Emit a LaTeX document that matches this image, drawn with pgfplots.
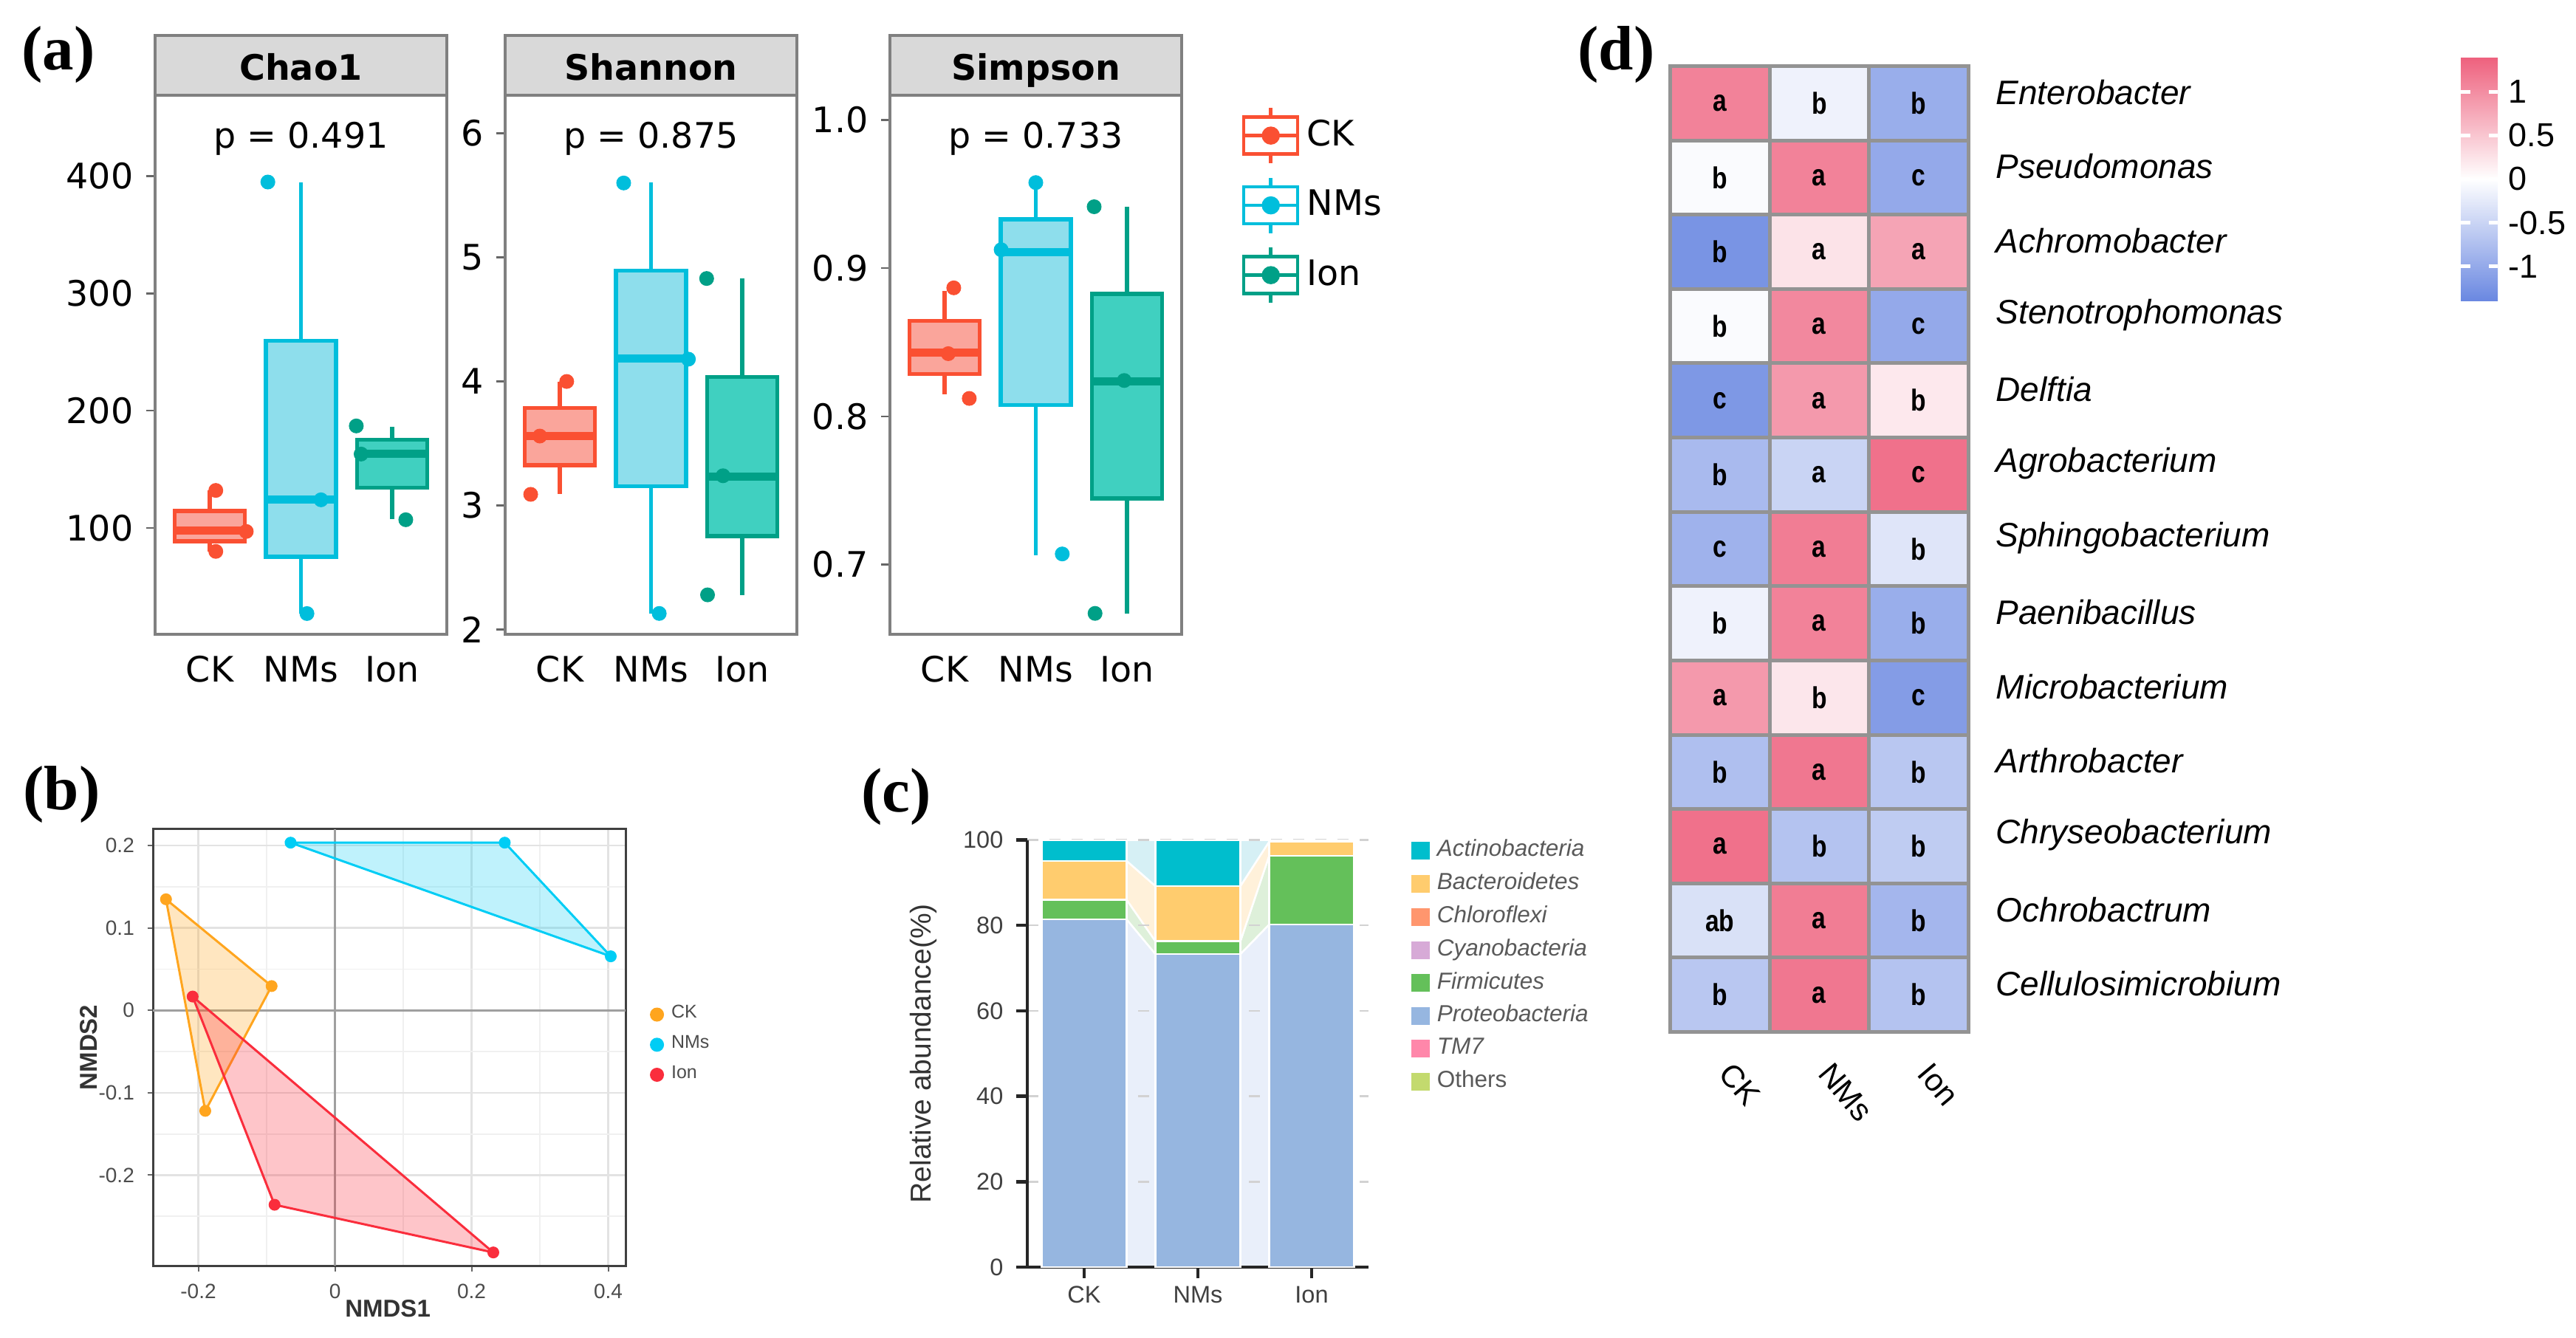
\documentclass[border=0pt]{standalone}
\usepackage{fontspec}
\setmainfont{Liberation Sans}
\newfontfamily\dejavu{DejaVu Sans}
\newfontfamily\tnr{Liberation Serif}
\newfontfamily\narrowf[FakeStretch=0.82]{Liberation Sans}
\usepackage{pgfplots}
\pgfplotsset{compat=1.18}
\usepgfplotslibrary{statistics}

\definecolor{ckl}{RGB}{250,80,50}
\definecolor{ckf}{RGB}{250,165,155}
\definecolor{nml}{RGB}{0,190,220}
\definecolor{nmf}{RGB}{142,222,236}
\definecolor{ionl}{RGB}{0,160,135}
\definecolor{ionf}{RGB}{64,208,192}
\definecolor{bck}{RGB}{255,165,30}
\definecolor{bnm}{RGB}{0,205,245}
\definecolor{bion}{RGB}{250,45,60}
\definecolor{cact}{RGB}{0,190,205}
\definecolor{cbac}{RGB}{255,204,110}
\definecolor{cchl}{RGB}{255,150,110}
\definecolor{ccya}{RGB}{215,170,215}
\definecolor{cfir}{RGB}{100,192,90}
\definecolor{cpro}{RGB}{150,182,224}
\definecolor{ctm}{RGB}{255,135,170}
\definecolor{coth}{RGB}{195,218,110}
\definecolor{lpro}{RGB}{233,239,250}
\definecolor{lfir}{RGB}{222,240,218}
\definecolor{lbac}{RGB}{255,241,218}
\definecolor{lact}{RGB}{214,240,245}

\pgfplotsset{
  apanel/.style={
    scale only axis, width=79pt, height=146pt, anchor=south west, clip=false,
    xmin=0.4, xmax=3.6, xtick={1,2,3}, xticklabels={CK,NMs,Ion},
    axis line style={gray, line width=0.7pt},
    tick align=outside, major tick length=2.4pt, xtick pos=bottom, ytick pos=left,
    ytick style={black!60, line width=0.5pt}, xtick style={draw=none},
    ticklabel style={font=\dejavu\fontsize{9.5}{11}\selectfont, text=black},
    boxplot/draw direction=y,
  },
  boxleg/.style={legend image code/.code={%
    \draw (7.3pt,-7.5pt) -- (7.3pt,7.5pt);
    \draw[fill=white] (0pt,-5pt) rectangle (14.6pt,5pt);
    \draw (0pt,0pt) -- (14.6pt,0pt);
    \fill (7.3pt,0pt) circle (2pt);}},
  dotleg/.style={legend image code/.code={\fill (1.7pt,0pt) circle (1.7pt);}},
  sqleg/.style={legend image code/.code={\fill (0pt,-2.2pt) rectangle (4.6pt,2.2pt);}},
}

\pgfplotstableread{
x y z
0 0 1.1
1 0 -0.15
2 0 -0.95
0 1 -0.05
1 1 1.1
2 1 -1.0
0 2 -1.25
1 2 0.25
2 2 0.8
0 3 -0.05
1 3 1.05
2 3 -1.0
0 4 -1.2
1 4 0.9
2 4 0.2
0 5 -0.8
1 5 -0.5
2 5 1.25
0 6 -0.9
1 6 1.15
2 6 -0.3
0 7 -0.15
1 7 1.1
2 7 -0.95
0 8 0.9
1 8 0.22
2 8 -1.15
0 9 -0.75
1 9 1.2
2 9 -0.65
0 10 1.25
1 10 -0.7
2 10 -0.6
0 11 -0.35
1 11 1.15
2 11 -0.85
0 12 -0.65
1 12 1.2
2 12 -0.7
}\heatdata

\pgfplotstableread{
x y lab
0 0 a
1 0 b
2 0 b
0 1 b
1 1 a
2 1 c
0 2 b
1 2 a
2 2 a
0 3 b
1 3 a
2 3 c
0 4 c
1 4 a
2 4 b
0 5 b
1 5 a
2 5 c
0 6 c
1 6 a
2 6 b
0 7 b
1 7 a
2 7 b
0 8 a
1 8 b
2 8 c
0 9 b
1 9 a
2 9 b
0 10 a
1 10 b
2 10 b
0 11 ab
1 11 a
2 11 b
0 12 b
1 12 a
2 12 b
}\heatlab

\begin{document}
\begin{tikzpicture}
\path[use as bounding box] (0pt,0pt) rectangle (697.6pt,362.2pt);

% panel labels
\node[font=\tnr\bfseries\fontsize{17}{17}\selectfont] at (15.8pt,347.4pt) {(a)};
\node[font=\tnr\bfseries\fontsize{17}{17}\selectfont] at (16.7pt,147pt) {(b)};
\node[font=\tnr\bfseries\fontsize{17}{17}\selectfont] at (242.7pt,146.4pt) {(c)};
\node[font=\tnr\bfseries\fontsize{17}{17}\selectfont] at (437.7pt,347.4pt) {(d)};

%================ (a) Chao1
\begin{axis}[apanel, at={(42pt,190.4pt)}, ymin=9.3, ymax=469,
  ytick={100,200,300,400}, yticklabels={100,200,300,400}]
\addplot[forget plot, draw=ckl, fill=ckf, line width=1.1pt, boxplot/every median/.style={line width=2.2pt},
  boxplot prepared={draw direction=y, draw position=1, lower whisker=80, lower quartile=88.5, median=98, upper quartile=114.5, upper whisker=132, box extend=0.77, whisker extend=0}] coordinates {};
\addplot[forget plot, draw=nml, fill=nmf, line width=1.1pt, boxplot/every median/.style={line width=2.2pt},
  boxplot prepared={draw direction=y, draw position=2, lower whisker=27, lower quartile=75.3, median=124, upper quartile=259.7, upper whisker=395, box extend=0.77, whisker extend=0}] coordinates {};
\addplot[forget plot, draw=ionl, fill=ionf, line width=1.1pt, boxplot/every median/.style={line width=2.2pt},
  boxplot prepared={draw direction=y, draw position=3, lower whisker=107.6, lower quartile=134.4, median=163, upper quartile=175.3, upper whisker=186, box extend=0.77, whisker extend=0}] coordinates {};
\addplot[forget plot, only marks, mark=*, mark size=1.8pt, ckl] coordinates {(1.066,132) (1.066,80) (1.40,97)};
\addplot[forget plot, only marks, mark=*, mark size=1.8pt, nml] coordinates {(1.637,395) (2.22,124) (2.066,27)};
\addplot[forget plot, only marks, mark=*, mark size=1.8pt, ionl] coordinates {(2.607,187) (2.66,163) (3.15,107)};
\draw[gray, line width=0.7pt, fill=gray!30] (rel axis cs:0,1) rectangle (rel axis cs:1,1.111);
\node[anchor=base, font=\dejavu\bfseries\fontsize{9.5}{11}\selectfont] at (rel axis cs:0.5,1.0274) {Chao1};
\node[anchor=base, font=\dejavu\fontsize{9.5}{11}\selectfont] at (rel axis cs:0.5,0.9027) {p = 0.491};
\end{axis}

%================ (a) Shannon
\begin{axis}[apanel, at={(136.8pt,190.4pt)}, ymin=1.962, ymax=6.307,
  ytick={2,3,4,5,6}, yticklabels={2,3,4,5,6}]
\addplot[forget plot, draw=ckl, fill=ckf, line width=1.1pt, boxplot/every median/.style={line width=2.2pt},
  boxplot prepared={draw direction=y, draw position=1, lower whisker=3.09, lower quartile=3.324, median=3.559, upper quartile=3.786, upper whisker=4.0, box extend=0.77, whisker extend=0}] coordinates {};
\addplot[forget plot, draw=nml, fill=nmf, line width=1.1pt, boxplot/every median/.style={line width=2.2pt},
  boxplot prepared={draw direction=y, draw position=2, lower whisker=2.127, lower quartile=3.155, median=4.183, upper quartile=4.893, upper whisker=5.603, box extend=0.77, whisker extend=0}] coordinates {};
\addplot[forget plot, draw=ionl, fill=ionf, line width=1.1pt, boxplot/every median/.style={line width=2.2pt},
  boxplot prepared={draw direction=y, draw position=3, lower whisker=2.278, lower quartile=2.754, median=3.234, upper quartile=4.035, upper whisker=4.832, box extend=0.77, whisker extend=0}] coordinates {};
\addplot[forget plot, only marks, mark=*, mark size=1.8pt, ckl] coordinates {(1.075,4.0) (0.78,3.56) (0.68,3.09)};
\addplot[forget plot, only marks, mark=*, mark size=1.8pt, nml] coordinates {(1.70,5.60) (2.41,4.18) (2.09,2.13)};
\addplot[forget plot, only marks, mark=*, mark size=1.8pt, ionl] coordinates {(2.61,4.83) (2.79,3.24) (2.62,2.28)};
\draw[gray, line width=0.7pt, fill=gray!30] (rel axis cs:0,1) rectangle (rel axis cs:1,1.111);
\node[anchor=base, font=\dejavu\bfseries\fontsize{9.5}{11}\selectfont] at (rel axis cs:0.5,1.0274) {Shannon};
\node[anchor=base, font=\dejavu\fontsize{9.5}{11}\selectfont] at (rel axis cs:0.5,0.9027) {p = 0.875};
\end{axis}

%================ (a) Simpson
\begin{axis}[apanel, at={(241pt,190.4pt)}, ymin=0.653, ymax=1.0166,
  ytick={0.7,0.8,0.9,1.0}, yticklabels={0.7,0.8,0.9,1.0},
  legend style={at={(axis description cs:1.205,0.981)}, anchor=north west, draw=none, fill=none,
    font=\dejavu\fontsize{9.5}{11}\selectfont, row sep=3pt, inner sep=0pt,
    /tikz/every even column/.append style={column sep=2pt}},
  legend cell align=left]
\addplot[forget plot, draw=ckl, fill=ckf, line width=1.1pt, boxplot/every median/.style={line width=2.2pt},
  boxplot prepared={draw direction=y, draw position=1, lower whisker=0.8151, lower quartile=0.8287, median=0.8429, upper quartile=0.8644, upper whisker=0.8846, box extend=0.77, whisker extend=0}] coordinates {};
\addplot[forget plot, draw=nml, fill=nmf, line width=1.1pt, boxplot/every median/.style={line width=2.2pt},
  boxplot prepared={draw direction=y, draw position=2, lower whisker=0.7063, lower quartile=0.8076, median=0.9109, upper quartile=0.9329, upper whisker=0.9577, box extend=0.77, whisker extend=0}] coordinates {};
\addplot[forget plot, draw=ionl, fill=ionf, line width=1.1pt, boxplot/every median/.style={line width=2.2pt},
  boxplot prepared={draw direction=y, draw position=3, lower whisker=0.6671, lower quartile=0.7447, median=0.8236, upper quartile=0.8825, upper whisker=0.9414, box extend=0.77, whisker extend=0}] coordinates {};
\addplot[forget plot, only marks, mark=*, mark size=1.8pt, ckl] coordinates {(1.10,0.8867) (1.04,0.8423) (1.27,0.8121)};
\addplot[forget plot, only marks, mark=*, mark size=1.8pt, nml] coordinates {(2.0,0.9577) (1.62,0.9124) (2.29,0.7072)};
\addplot[forget plot, only marks, mark=*, mark size=1.8pt, ionl] coordinates {(2.64,0.9414) (2.97,0.8242) (2.65,0.6671)};
\draw[gray, line width=0.7pt, fill=gray!30] (rel axis cs:0,1) rectangle (rel axis cs:1,1.111);
\node[anchor=base, font=\dejavu\bfseries\fontsize{9.5}{11}\selectfont] at (rel axis cs:0.5,1.0274) {Simpson};
\node[anchor=base, font=\dejavu\fontsize{9.5}{11}\selectfont] at (rel axis cs:0.5,0.9027) {p = 0.733};
\addlegendimage{ckl, line width=0.9pt, boxleg}
\addlegendentry{CK}
\addlegendimage{nml, line width=0.9pt, boxleg}
\addlegendentry{NMs}
\addlegendimage{ionl, line width=0.9pt, boxleg}
\addlegendentry{Ion}
\end{axis}

%================ (b) NMDS
\begin{axis}[scale only axis, width=128pt, height=118.2pt, at={(41.4pt,19.4pt)}, anchor=south west,
  xmin=-0.2665, xmax=0.4254, ymin=-0.3098, ymax=0.2197,
  xtick={-0.2,0,0.2,0.4}, xticklabels={-0.2,0,0.2,0.4},
  ytick={-0.2,-0.1,0,0.1,0.2}, yticklabels={-0.2,-0.1,0,0.1,0.2},
  minor xtick={-0.1,0.1,0.3}, minor ytick={-0.25,-0.15,-0.05,0.05,0.15},
  grid=both, major grid style={gray!22, line width=0.5pt}, minor grid style={gray!12, line width=0.35pt},
  axis line style={black!75, line width=0.6pt},
  tick style={black!60, line width=0.4pt}, major tick length=1.5pt, minor tick length=0pt,
  tick align=outside, xtick pos=bottom, ytick pos=left,
  ticklabel style={font=\fontsize{5.6}{6}\selectfont, text=black!70},
  xlabel={NMDS1}, ylabel={NMDS2},
  label style={font=\bfseries\fontsize{6.6}{7}\selectfont, text=black!80},
  xlabel style={at={(axis description cs:0.497,-0.098)}, anchor=center},
  ylabel style={at={(axis description cs:-0.136,0.5)}, anchor=center, rotate=0},
  legend style={at={(axis description cs:1.05,0.615)}, anchor=north west, draw=none, fill=none,
    font=\fontsize{5}{6}\selectfont, text=black!70, row sep=-0.8pt, inner sep=0pt,
    /tikz/every even column/.append style={column sep=1pt}},
  legend cell align=left]
\addplot[forget plot, gray!75, line width=0.6pt] coordinates {(0,-0.3098) (0,0.2197)};
\addplot[forget plot, gray!75, line width=0.6pt] coordinates {(-0.2665,0) (0.4254,0)};
\addplot[forget plot, draw=bck, fill=bck, fill opacity=0.28, line width=0.6pt] coordinates {(-0.2473,0.1347) (-0.0927,0.0294) (-0.1898,-0.1220)} -- cycle;
\addplot[forget plot, draw=bnm, fill=bnm, fill opacity=0.25, line width=0.6pt] coordinates {(-0.0649,0.2034) (0.2485,0.2034) (0.4037,0.0655)} -- cycle;
\addplot[forget plot, draw=bion, fill=bion, fill opacity=0.28, line width=0.6pt] coordinates {(-0.2083,0.0167) (-0.0884,-0.2359) (0.2318,-0.2938)} -- cycle;
\addplot[forget plot, only marks, mark=*, mark size=1.4pt, bck] coordinates {(-0.2473,0.1347) (-0.0927,0.0294) (-0.1898,-0.1220)};
\addplot[forget plot, only marks, mark=*, mark size=1.4pt, bnm] coordinates {(-0.0649,0.2034) (0.2485,0.2034) (0.4037,0.0655)};
\addplot[forget plot, only marks, mark=*, mark size=1.4pt, bion] coordinates {(-0.2083,0.0167) (-0.0884,-0.2359) (0.2318,-0.2938)};
\addlegendimage{bck, dotleg}
\addlegendentry{CK}
\addlegendimage{bnm, dotleg}
\addlegendentry{NMs}
\addlegendimage{bion, dotleg}
\addlegendentry{Ion}
\end{axis}

%================ (c) links layer
\begin{axis}[scale only axis, width=92.4pt, height=115.7pt, at={(278.2pt,19pt)}, anchor=south west,
  xmin=-0.5, xmax=2.5, ymin=0, ymax=100, hide axis]
\addplot[draw=white, line width=0.5pt, fill=lpro] coordinates {(0.3735,0) (0.6265,0) (0.6265,73.3) (0.3735,81.4)} -- cycle;
\addplot[draw=white, line width=0.5pt, fill=lfir] coordinates {(0.3735,81.4) (0.6265,73.3) (0.6265,76.3) (0.3735,86.0)} -- cycle;
\addplot[draw=white, line width=0.5pt, fill=lbac] coordinates {(0.3735,86.0) (0.6265,76.3) (0.6265,89.2) (0.3735,95.1)} -- cycle;
\addplot[draw=white, line width=0.5pt, fill=lact] coordinates {(0.3735,95.1) (0.6265,89.2) (0.6265,100) (0.3735,100)} -- cycle;
\addplot[draw=white, line width=0.5pt, fill=lpro] coordinates {(1.3735,0) (1.6265,0) (1.6265,80.2) (1.3735,73.3)} -- cycle;
\addplot[draw=white, line width=0.5pt, fill=lfir] coordinates {(1.3735,73.3) (1.6265,80.2) (1.6265,96.3) (1.3735,76.3)} -- cycle;
\addplot[draw=white, line width=0.5pt, fill=lbac] coordinates {(1.3735,76.3) (1.6265,96.3) (1.6265,99.6) (1.3735,89.2)} -- cycle;
\addplot[draw=white, line width=0.5pt, fill=lact] coordinates {(1.3735,89.2) (1.6265,99.6) (1.6265,100) (1.3735,100)} -- cycle;
\end{axis}

%================ (c) bars
\begin{axis}[scale only axis, width=92.4pt, height=115.7pt, at={(278.2pt,19pt)}, anchor=south west,
  xmin=-0.5, xmax=2.5, ymin=0, ymax=100,
  ybar stacked, bar width=0.747,
  axis x line*=bottom, axis y line*=left, axis line style={black!85, line width=0.9pt, -},
  xtick={0,1,2}, xticklabels={CK,NMs,Ion},
  ytick={0,20,40,60,80,100}, yticklabels={0,20,40,60,80,100},
  tick align=outside, major tick length=3pt, tick style={black!85, line width=0.9pt},
  ymajorgrids, major grid style={gray!35, dashed, line width=0.5pt},
  ticklabel style={font=\fontsize{6.5}{7}\selectfont, text=black!75},
  xticklabel style={yshift=1.3pt},
  ylabel={Relative abundance(\%)},
  ylabel style={at={(axis description cs:-0.305,0.5)}, anchor=center, font=\fontsize{7.8}{8}\selectfont, text=black!80},
  legend style={at={(axis description cs:1.123,1.02)}, anchor=north west, draw=none, fill=none,
    font=\itshape\fontsize{6.3}{7}\selectfont, text=black!65, row sep=-1.1pt, inner sep=0pt,
    /tikz/every even column/.append style={column sep=1.5pt}},
  legend cell align=left]
\addplot[forget plot, fill=cpro, draw=white, line width=0.5pt] coordinates {(0,81.4) (1,73.3) (2,80.2)};
\addplot[forget plot, fill=cfir, draw=white, line width=0.5pt] coordinates {(0,4.6) (1,3.0) (2,16.1)};
\addplot[forget plot, fill=cbac, draw=white, line width=0.5pt] coordinates {(0,9.1) (1,12.9) (2,3.3)};
\addplot[forget plot, fill=cact, draw=white, line width=0.5pt] coordinates {(0,4.9) (1,10.8) (2,0.4)};
\addlegendimage{cact, sqleg}
\addlegendentry{Actinobacteria}
\addlegendimage{cbac, sqleg}
\addlegendentry{Bacteroidetes}
\addlegendimage{cchl, sqleg}
\addlegendentry{Chloroflexi}
\addlegendimage{ccya, sqleg}
\addlegendentry{Cyanobacteria}
\addlegendimage{cfir, sqleg}
\addlegendentry{Firmicutes}
\addlegendimage{cpro, sqleg}
\addlegendentry{Proteobacteria}
\addlegendimage{ctm, sqleg}
\addlegendentry{TM7}
\addlegendimage{coth, sqleg}
\addlegendentry{\upshape Others}
\end{axis}

%================ (d) heatmap
\begin{axis}[scale only axis, width=80.7pt, height=261.6pt, at={(452.3pt,82.7pt)}, anchor=south west,
  xmin=-0.5, xmax=2.5, ymin=-0.5, ymax=12.5, y dir=reverse,
  xtick={0,1,2}, xticklabels={CK,NMs,Ion},
  ytick={0,1,...,12},
  yticklabels={Enterobacter,Pseudomonas,Achromobacter,Stenotrophomonas,Delftia,Agrobacterium,Sphingobacterium,Paenibacillus,Microbacterium,Arthrobacter,Chryseobacterium,Ochrobactrum,Cellulosimicrobium},
  yticklabel pos=right, ytick pos=right, xtick pos=bottom,
  major tick length=0pt, minor tick length=0pt,
  minor xtick={0.5,1.5}, minor ytick={0.5,1.5,...,11.5},
  xminorgrids, yminorgrids,
  minor grid style={draw=gray!85, line width=1pt},
  axis line style={draw=gray!85, line width=1pt},
  axis on top,
  xticklabel style={font=\fontsize{8.5}{9}\selectfont, yshift=-7pt, xshift=-0.7pt, rotate=-50, anchor=west},
  yticklabel style={font=\itshape\fontsize{9.2}{10}\selectfont, anchor=west, xshift=4pt, yshift=3pt},
  colormap={heat}{rgb255=(105,135,225) rgb255=(255,255,255) rgb255=(238,96,125)},
  point meta min=-1.4, point meta max=1.4,
  colorbar,
  colorbar style={
    at={(parent axis.north east)}, anchor=north west, xshift=124.9pt, yshift=2.5pt,
    scale only axis, width=10pt, height=66.2pt, y dir=normal,
    ytick={-1,-0.5,0,0.5,1}, yticklabels={-1,-0.5,0,0.5,1},
    ytick pos=both, yticklabel pos=right,
    tick align=inside, major tick length=2.5pt,
    ytick style={draw=white, line width=0.9pt},
    axis line style={draw=none}, axis on top,
    yticklabel style={font=\fontsize{9}{10}\selectfont, xshift=-0.6pt},
  },
]
\addplot[matrix plot*, mesh/cols=3, point meta=explicit] table[x=x, y=y, meta=z] {\heatdata};
\addplot[only marks, mark=*, mark size=0pt, mark options={draw=none, fill=none},
  nodes near coords, point meta=explicit symbolic,
  nodes near coords style={anchor=center, font=\narrowf\bfseries\fontsize{8.2}{9}\selectfont, text=black}]
  table[x=x, y=y, meta=lab] {\heatlab};
\end{axis}

\end{tikzpicture}
\end{document}
